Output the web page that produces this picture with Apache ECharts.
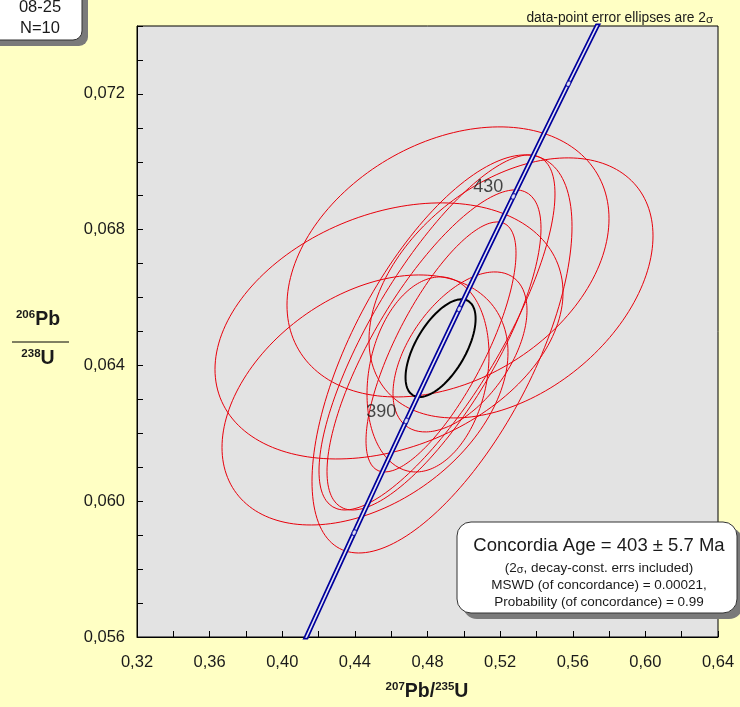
<!DOCTYPE html>
<html>
<head>
<meta charset="utf-8">
<script src="https://cdn.jsdelivr.net/npm/echarts@6/dist/echarts.min.js"></script>
<style>
  html, body { margin: 0; padding: 0; background: #ffffc4; }
  #chart { width: 740px; height: 707px; }
</style>
</head>
<body>
<div id="chart"></div>
<script>
// ---- Analyses: centres, 2-sigma errors and error correlations ----
const pb207u235      = [0.45880, 0.44558, 0.49129, 0.52599, 0.48799, 0.48523, 0.48358, 0.48744, 0.49790, 0.48028];
const pb207u235Err2s = [0.09584, 0.07876, 0.08868, 0.07821, 0.07160, 0.06499, 0.05893, 0.04131, 0.03690, 0.03360];
const pb206u238      = [0.065017, 0.062983, 0.067050, 0.066284, 0.064339, 0.064972, 0.064457, 0.064545, 0.064398, 0.063735];
const pb206u238Err2s = [0.003772, 0.003683, 0.003978, 0.003831, 0.005864, 0.005230, 0.004715, 0.003683, 0.002357, 0.002873];
const errCorr        = [0.30, 0.38, 0.32, 0.40, 0.64, 0.78, 0.76, 0.75, 0.52, 0.20];

// ---- Concordia age ellipse (403 Ma) ----
const ageEllipseCentre = [0.4872, 0.06451];
const ageEllipseErr2s  = [0.0193, 0.00144];
const ageEllipseCorr   = 0.60;

// ---- Concordia curve ----
const LAMBDA_238 = 1.55125e-10;   // per year
const LAMBDA_235 = 9.8485e-10;    // per year
const concordiaAges = [330, 340, 350, 360, 370, 380, 390, 400, 410, 420, 430, 440, 450, 460, 470, 480];
const markedAges    = [370, 390, 410, 430, 450];
const labelledAges  = [390, 430];

// ---- Axes ----
const xMin = 0.32, xMax = 0.64, xTickStep = 0.02;
const yMin = 0.056, yMax = 0.074, yTickStep = 0.001;

function ratios(ageMa) {
  const t = ageMa * 1e6;
  return [Math.exp(LAMBDA_235 * t) - 1, Math.exp(LAMBDA_238 * t) - 1];
}

// outline of an error ellipse with the given marginal half-widths and correlation
function ellipsePath(cx, cy, ex, ey, r, steps) {
  const pts = [];
  const s = Math.sqrt(1 - r * r);
  for (let i = 0; i <= steps; i++) {
    const a = (i / steps) * 2 * Math.PI;
    const c = Math.cos(a), sn = Math.sin(a);
    pts.push([cx + ex * c, cy + ey * (r * c + s * sn)]);
  }
  return pts;
}

const FONT = '"Liberation Sans", Arial, sans-serif';
const TXT = '#1a1a1a';

const series = [];

pb207u235.forEach((x, i) => {
  series.push({
    type: 'line', silent: true, showSymbol: false, z: 2,
    data: ellipsePath(x, pb206u238[i], pb207u235Err2s[i], pb206u238Err2s[i], errCorr[i], 180),
    lineStyle: { color: '#e8000b', width: 1 }
  });
});

series.push({
  type: 'line', silent: true, showSymbol: false, z: 4,
  data: ellipsePath(ageEllipseCentre[0], ageEllipseCentre[1], ageEllipseErr2s[0], ageEllipseErr2s[1], ageEllipseCorr, 180),
  lineStyle: { color: '#000', width: 2 }
});

// concordia drawn as a dark band with a light core (the decay-constant error envelope)
const concordiaPts = concordiaAges.map(ratios);
series.push({
  type: 'line', silent: true, showSymbol: false, z: 5,
  data: concordiaPts, lineStyle: { color: '#00009c', width: 5 }
});
series.push({
  type: 'line', silent: true, showSymbol: false, z: 6,
  data: concordiaPts, lineStyle: { color: '#e4e4f4', width: 1.6 }
});
series.push({
  type: 'scatter', silent: true, z: 7,
  data: markedAges.map(ratios),
  symbol: 'circle', symbolSize: [4, 6], symbolRotate: -28,
  itemStyle: { color: '#e4e4f4', borderColor: '#00009c', borderWidth: 1 }
});
series.push({
  type: 'scatter', silent: true, z: 8,
  data: labelledAges.map(a => ({ value: ratios(a), age: a })),
  symbolSize: 0,
  label: {
    show: true, position: 'inside', offset: [-25, -9],
    formatter: p => String(p.data.age),
    fontFamily: FONT, fontSize: 18, color: TXT
  }
});

const option = {
  backgroundColor: '#ffffc4',
  animation: false,
  grid: {
    left: 137, right: 22, top: 26, bottom: 70,
    show: true, backgroundColor: '#e3e3e3', borderColor: '#000', borderWidth: 1
  },
  xAxis: {
    type: 'value', min: xMin, max: xMax, interval: xTickStep,
    axisLine: { lineStyle: { color: '#000', width: 1 } },
    axisTick: { inside: true, length: 6, lineStyle: { color: '#000' } },
    splitLine: { show: false },
    axisLabel: {
      margin: 17, fontFamily: FONT, fontSize: 16.5, color: TXT,
      formatter: v => (Math.round(v * 100) % 4 === 0 ? v.toFixed(2).replace('.', ',') : '')
    }
  },
  yAxis: {
    type: 'value', min: yMin, max: yMax, interval: yTickStep,
    axisLine: { lineStyle: { color: '#000', width: 1 } },
    axisTick: { inside: true, length: 6, lineStyle: { color: '#000' } },
    splitLine: { show: false },
    axisLabel: {
      margin: 12, fontFamily: FONT, fontSize: 16.5, color: TXT,
      formatter: v => (Math.round(v * 1000) % 4 === 0 ? v.toFixed(3).replace('.', ',') : '')
    }
  },
  series: series,
  graphic: [
    // sample box, top left
    { type: 'rect', z: 10, shape: { x: -14, y: -20, width: 96, height: 60, r: 9 },
      style: { fill: '#7a7a7a' }, x: 6, y: 6 },
    { type: 'rect', z: 11, shape: { x: -14, y: -20, width: 96, height: 60, r: 9 },
      style: { fill: '#fff', stroke: '#333', lineWidth: 1 } },
    { type: 'text', z: 12, x: 40, y: 7,
      style: { text: '08-25', font: '16.5px ' + FONT, fill: TXT, align: 'center', verticalAlign: 'middle' } },
    { type: 'text', z: 12, x: 40, y: 28,
      style: { text: 'N=10', font: '16.5px ' + FONT, fill: TXT, align: 'center', verticalAlign: 'middle' } },

    // ellipse note above the frame
    { type: 'text', z: 12, x: 713, y: 18,
      style: {
        text: 'data-point error ellipses are 2{s|σ}',
        font: '13.8px ' + FONT, fill: TXT, align: 'right', verticalAlign: 'middle',
        rich: { s: { fontSize: 11.5, fontFamily: FONT, fill: TXT, padding: [4, 0, 0, 0] } }
      } },

    // y-axis title as a stacked ratio
    { type: 'text', z: 12, x: 38, y: 320,
      style: {
        text: '{sup|206}{m|Pb}', align: 'center', verticalAlign: 'middle',
        rich: {
          sup: { fontSize: 11.5, fontWeight: 'bold', fontFamily: FONT, fill: TXT, verticalAlign: 'top', lineHeight: 22 },
          m: { fontSize: 19.5, fontWeight: 'bold', fontFamily: FONT, fill: TXT, lineHeight: 22 }
        }
      } },
    { type: 'line', z: 12, shape: { x1: 12, y1: 342, x2: 69, y2: 342 }, style: { stroke: '#000', lineWidth: 1 } },
    { type: 'text', z: 12, x: 38, y: 359,
      style: {
        text: '{sup|238}{m|U}', align: 'center', verticalAlign: 'middle',
        rich: {
          sup: { fontSize: 11.5, fontWeight: 'bold', fontFamily: FONT, fill: TXT, verticalAlign: 'top', lineHeight: 22 },
          m: { fontSize: 19.5, fontWeight: 'bold', fontFamily: FONT, fill: TXT, lineHeight: 22 }
        }
      } },

    // x-axis title
    { type: 'text', z: 12, x: 427, y: 692,
      style: {
        text: '{sup|207}{m|Pb/}{sup|235}{m|U}', align: 'center', verticalAlign: 'middle',
        rich: {
          sup: { fontSize: 11.5, fontWeight: 'bold', fontFamily: FONT, fill: TXT, verticalAlign: 'top', lineHeight: 22 },
          m: { fontSize: 19.5, fontWeight: 'bold', fontFamily: FONT, fill: TXT, lineHeight: 22 }
        }
      } },

    // concordia age result box
    { type: 'rect', z: 10, shape: { x: 457, y: 522, width: 280, height: 91, r: 14 },
      style: { fill: '#7a7a7a' }, x: 6, y: 6 },
    { type: 'rect', z: 11, shape: { x: 457, y: 522, width: 280, height: 91, r: 14 },
      style: { fill: '#fff', stroke: '#333', lineWidth: 1 } },
    { type: 'text', z: 12, x: 599, y: 546,
      style: { text: 'Concordia Age = 403 ± 5.7 Ma', font: '18.5px ' + FONT, fill: TXT, align: 'center', verticalAlign: 'middle' } },
    { type: 'text', z: 12, x: 599, y: 568,
      style: {
        text: '(2{s|σ}, decay-const. errs included)', font: '13.5px ' + FONT, fill: TXT, align: 'center', verticalAlign: 'middle',
        rich: { s: { fontSize: 11, fontFamily: FONT, fill: TXT, padding: [4, 0, 0, 0] } }
      } },
    { type: 'text', z: 12, x: 599, y: 585,
      style: { text: 'MSWD (of concordance) = 0.00021,', font: '13.5px ' + FONT, fill: TXT, align: 'center', verticalAlign: 'middle' } },
    { type: 'text', z: 12, x: 599, y: 602,
      style: { text: 'Probability (of concordance) = 0.99', font: '13.5px ' + FONT, fill: TXT, align: 'center', verticalAlign: 'middle' } }
  ]
};

const chart = echarts.init(document.getElementById('chart'), null, { renderer: 'canvas' });
chart.setOption(option);
</script>
</body>
</html>
